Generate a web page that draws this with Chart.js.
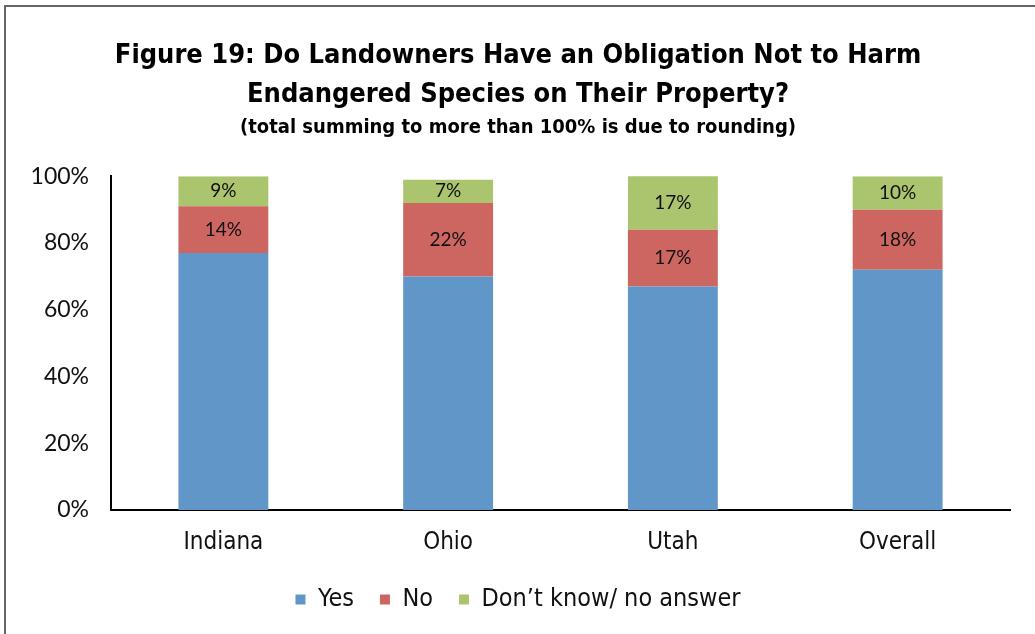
<!DOCTYPE html>
<html>
<head>
<meta charset="utf-8">
<script src="https://cdn.jsdelivr.net/npm/chart.js@4.4.1/dist/chart.umd.min.js"></script>
<style>
  html, body { margin: 0; padding: 0; background: #fff; }
  #frame {
    position: absolute; left: 4px; top: 5px;
    width: 1029px; height: 627px;
    border-top: 2px solid #666; border-left: 2px solid #666;
  }
  #chart { display: block; }
</style>
</head>
<body>
<div id="frame"><canvas id="chart" width="1029" height="627"></canvas></div>
<script>
const states = ["Indiana", "Ohio", "Utah", "Overall"];
const yesValues = [77, 70, 67, 72];
const noValues = [14, 22, 17, 18];
const dontKnowValues = [9, 7, 17, 10];
const yTicks = [0, 20, 40, 60, 80, 100];

const condensed = "'Liberation Sans Narrow', 'DejaVu Sans Condensed', sans-serif";

// writes the percentage in the middle of each labelled segment
const segmentLabels = {
  id: "segmentLabels",
  afterDatasetsDraw(chart) {
    const ctx = chart.ctx;
    const area = chart.chartArea;
    ctx.save();
    ctx.font = "19px Lato, sans-serif";
    ctx.fillStyle = "#111";
    ctx.textAlign = "center";
    ctx.textBaseline = "middle";
    chart.data.datasets.forEach((ds, i) => {
      if (!ds.showValues) return;
      chart.getDatasetMeta(i).data.forEach((bar, j) => {
        const top = Math.max(bar.y, area.top);
        const y = (top + bar.base) / 2;
        ctx.fillText(ds.data[j] + "%", bar.x, y);
      });
    });
    ctx.restore();
  },
};

new Chart(document.getElementById("chart"), {
  type: "bar",
  data: {
    labels: states,
    datasets: [
      { label: "Yes", data: yesValues, backgroundColor: "#6096C8", showValues: false },
      { label: "No", data: noValues, backgroundColor: "#CD6660", showValues: true },
      { label: "Don\u2019t know/ no answer", data: dontKnowValues, backgroundColor: "#ABC46E", showValues: true },
    ],
  },
  options: {
    responsive: false,
    animation: false,
    events: [],
    layout: { padding: { left: 20, right: 25, top: 0, bottom: 12 } },
    datasets: { bar: { barPercentage: 0.4, categoryPercentage: 1 } },
    scales: {
      x: {
        stacked: true,
        grid: { display: false, drawTicks: false },
        border: { color: "#000", width: 2 },
        ticks: { color: "#111", padding: 18, font: { family: condensed, size: 24 } },
        afterFit(scale) { scale.height = 51; },
      },
      y: {
        stacked: true,
        min: 0,
        max: 100,
        afterBuildTicks(scale) { scale.ticks = yTicks.map((v) => ({ value: v })); },
        grid: { display: false, drawTicks: false },
        border: { color: "#000", width: 2 },
        ticks: {
          color: "#111",
          padding: 22,
          font: { family: "Lato, sans-serif", size: 23 },
          callback: (v) => v + "%",
        },
        afterFit(scale) { scale.width = 85; },
      },
    },
    plugins: {
      title: {
        display: true,
        text: [
          "Figure 19: Do Landowners Have an Obligation Not to Harm",
          "Endangered Species on Their Property?",
        ],
        color: "#000",
        font: { family: condensed, size: 27, weight: "bold", lineHeight: 1.45 },
        padding: { top: 29, bottom: 1 },
      },
      subtitle: {
        display: true,
        text: "(total summing to more than 100% is due to rounding)",
        color: "#000",
        font: { family: condensed, size: 20, weight: "bold", lineHeight: 1.2 },
        padding: { top: 0, bottom: 37 },
      },
      legend: {
        position: "bottom",
        labels: {
          color: "#111",
          boxWidth: 10,
          boxHeight: 10,
          padding: 26,
          font: { family: condensed, size: 25 },
        },
      },
      tooltip: { enabled: false },
    },
  },
  plugins: [segmentLabels],
});
</script>
</body>
</html>
